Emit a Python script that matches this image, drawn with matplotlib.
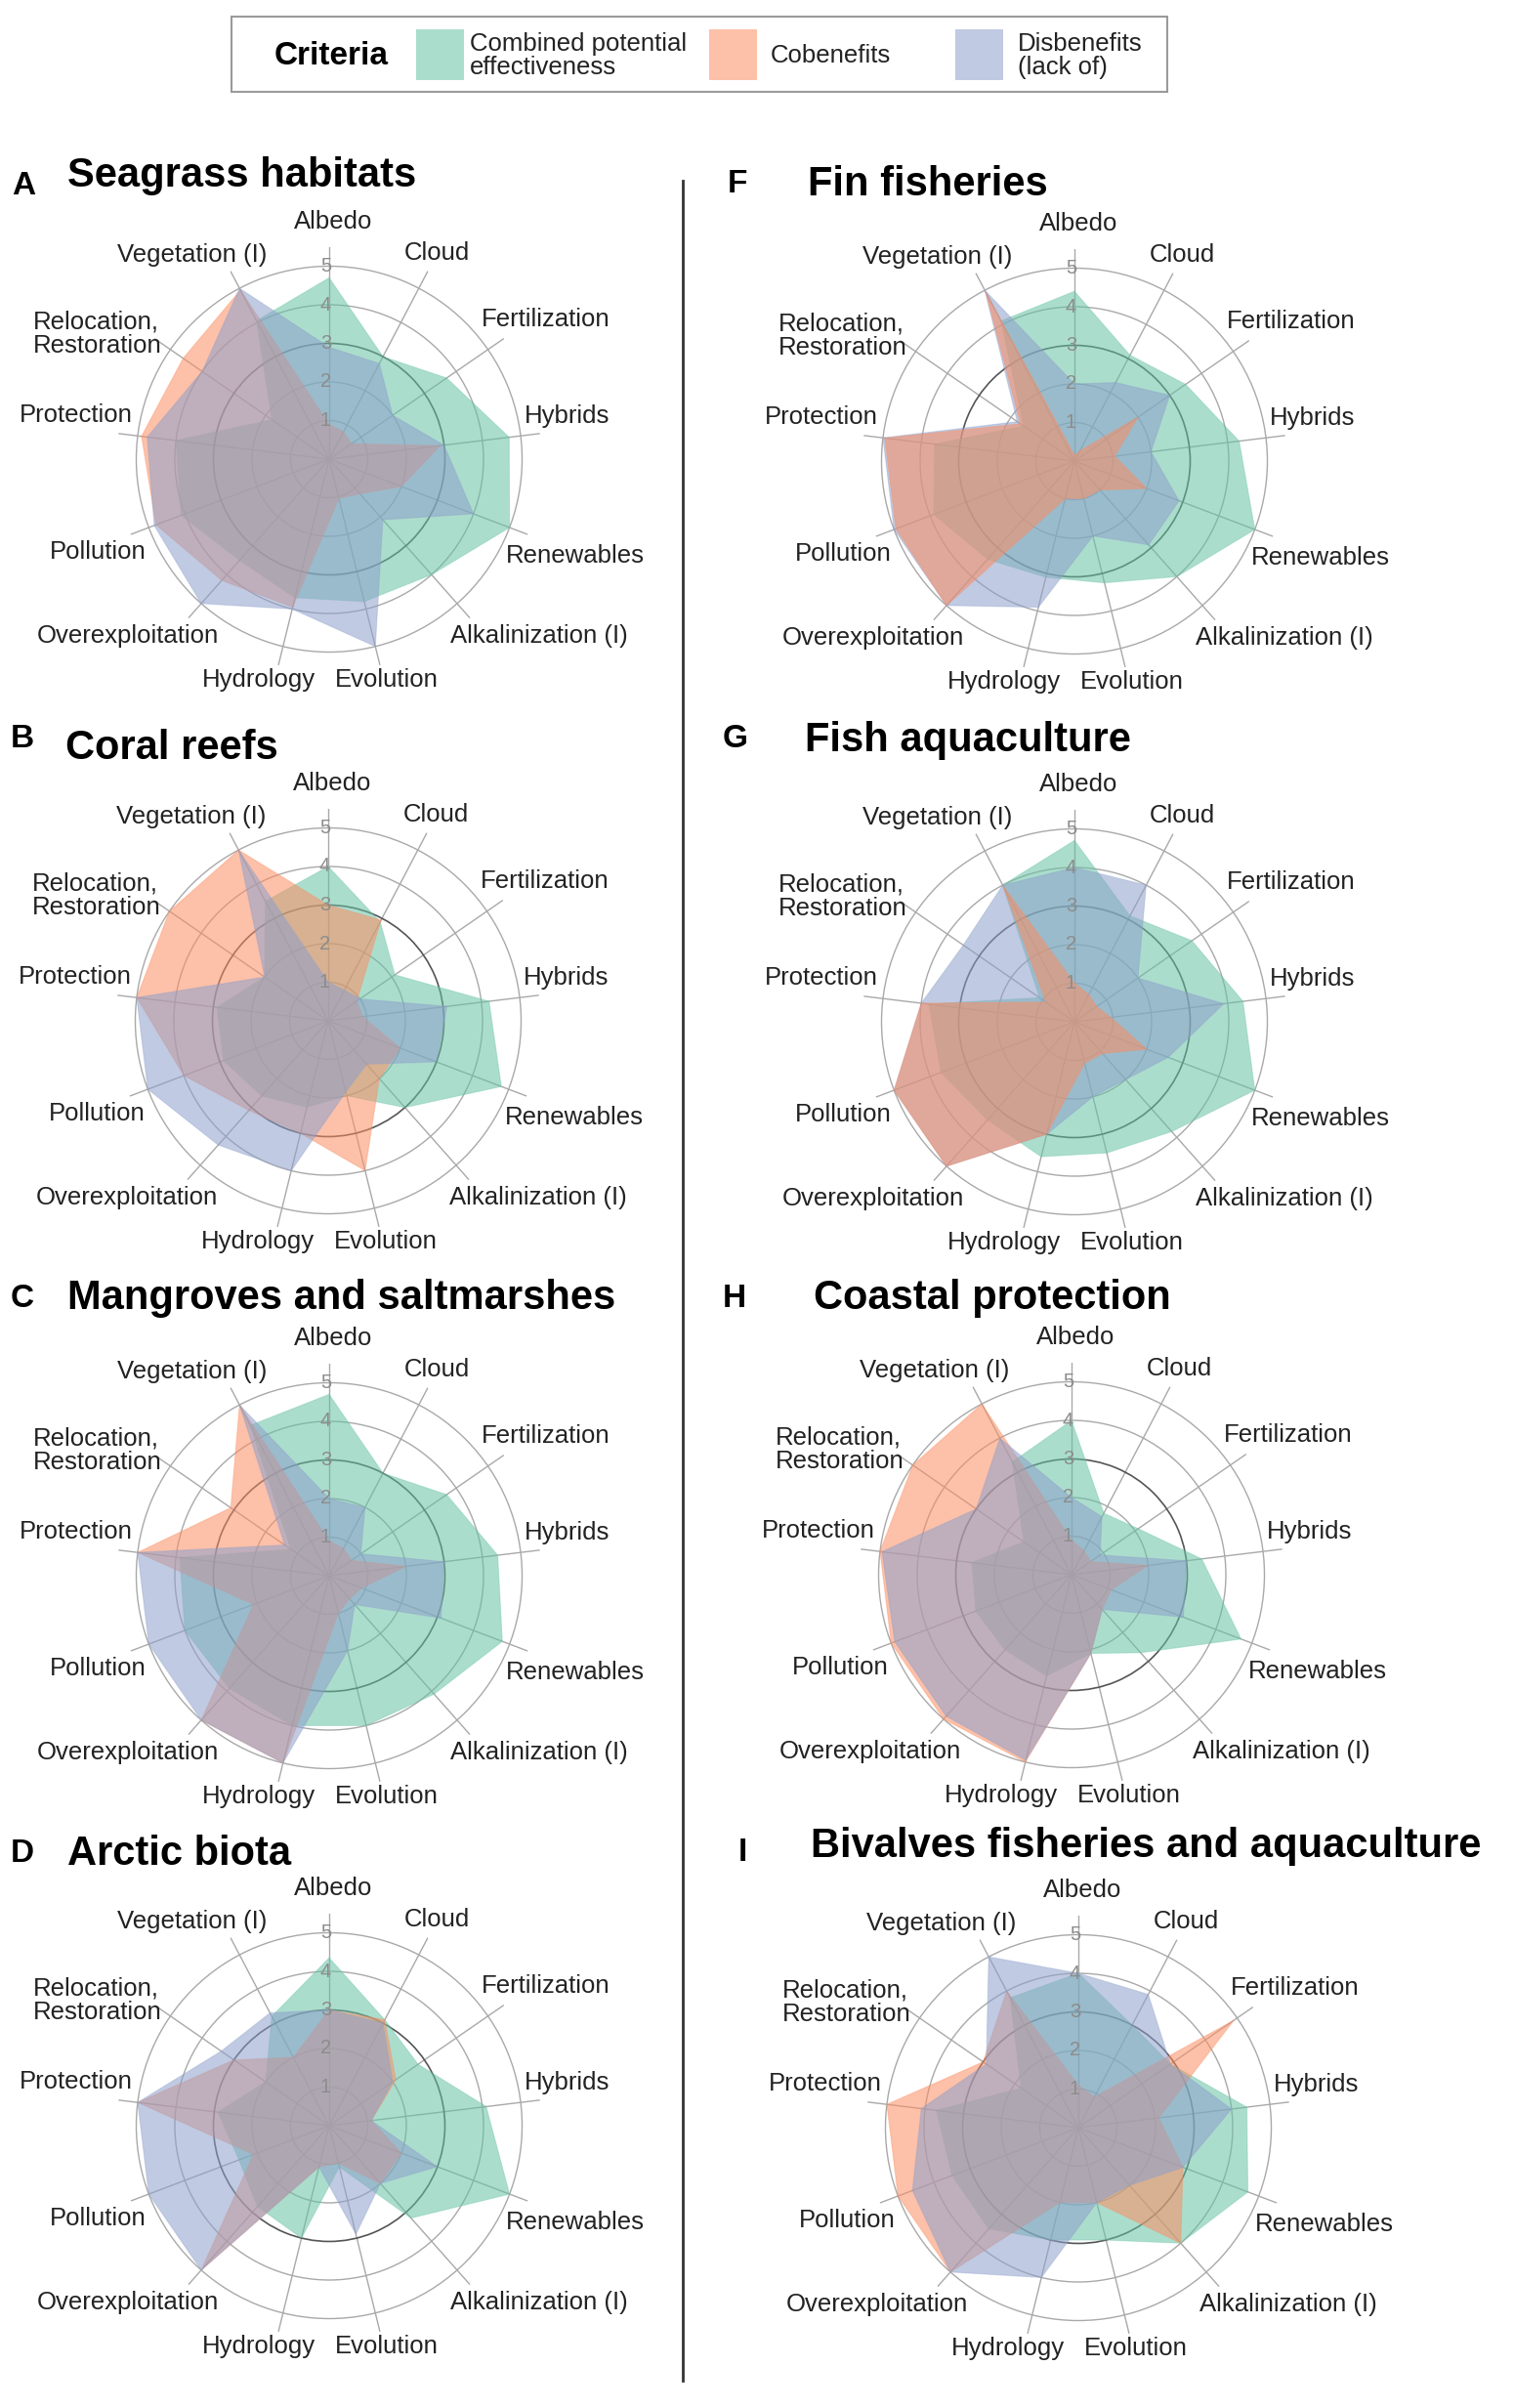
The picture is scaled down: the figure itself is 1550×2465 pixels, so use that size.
import numpy as np
import matplotlib.pyplot as plt
from matplotlib.patches import Rectangle
from matplotlib.lines import Line2D

plt.rcParams['font.family'] = ['Liberation Sans', 'DejaVu Sans']

# axes of every radar, clockwise from the top
categories = ['Albedo', 'Cloud', 'Fertilization', 'Hybrids', 'Renewables',
              'Alkalinization (I)', 'Evolution', 'Hydrology', 'Overexploitation',
              'Pollution', 'Protection', 'Relocation,\nRestoration', 'Vegetation (I)']

criteria = ['Combined potential\neffectiveness', 'Cobenefits', 'Disbenefits\n(lack of)']
colors = ['#66c2a5', '#fc8d62', '#8da0cb']

# A - Seagrass habitats
seagrass_eff = [4.7, 3.0, 3.7, 4.7, 5.0, 4.0, 3.8, 3.7, 3.5, 4.1, 4.0, 1.8, 4.05]
seagrass_cob = [0.9, 0.8, 0.7, 2.9, 2.0, 1.2, 1.05, 3.95, 4.2, 4.8, 4.9, 4.6, 4.95]
seagrass_dis = [2.9, 2.8, 2.0, 3.0, 4.0, 2.1, 5.0, 4.0, 5.0, 4.85, 4.75, 4.0, 5.0]

# B - Coral reefs
coral_eff = [4.0, 2.9, 2.1, 4.2, 4.8, 3.0, 2.0, 2.3, 2.6, 2.9, 2.9, 2.0, 3.5]
coral_cob = [3.0, 2.95, 0.9, 0.9, 2.0, 2.0, 4.0, 3.0, 3.1, 4.0, 5.0, 5.0, 5.0]
coral_dis = [1.0, 0.9, 1.0, 3.1, 3.0, 1.5, 1.9, 4.0, 4.3, 5.0, 5.0, 2.0, 5.0]

# C - Mangroves and saltmarshes
mangrove_eff = [4.7, 3.0, 3.7, 4.4, 4.8, 4.1, 4.0, 4.0, 3.9, 4.0, 3.9, 1.2, 4.4]
mangrove_cob = [0.9, 0.8, 0.7, 2.0, 0.9, 0.8, 1.0, 5.0, 5.0, 2.1, 5.0, 3.1, 5.0]
mangrove_dis = [2.0, 2.0, 1.0, 3.0, 3.1, 1.0, 2.0, 5.0, 5.0, 5.0, 5.0, 1.4, 5.0]

# D - Arctic biota
arctic_eff = [4.35, 3.1, 2.8, 4.1, 5.0, 3.2, 1.1, 3.0, 2.8, 2.5, 2.9, 2.0, 3.2]
arctic_cob = [3.0, 3.1, 2.1, 1.1, 2.0, 2.0, 1.0, 1.1, 5.0, 2.1, 5.0, 3.0, 2.0]
arctic_dis = [3.0, 3.0, 2.0, 1.1, 3.0, 2.0, 2.9, 1.1, 5.0, 5.0, 5.0, 3.4, 3.3]

# F - Fin fisheries
finfish_eff = [4.4, 3.1, 3.5, 4.3, 5.0, 4.0, 3.25, 3.1, 3.4, 3.9, 3.65, 1.6, 4.1]
finfish_cob = [0.15, 0.3, 2.0, 1.05, 2.0, 1.0, 1.0, 1.0, 5.0, 4.95, 4.95, 1.7, 4.95]
finfish_dis = [2.0, 2.3, 3.0, 2.0, 2.9, 2.9, 2.0, 3.9, 5.0, 5.0, 5.0, 1.8, 5.0]

# G - Fish aquaculture
aquaculture_eff = [4.7, 3.1, 3.7, 4.4, 5.0, 3.8, 3.5, 3.6, 3.4, 3.7, 3.8, 1.1, 4.0]
aquaculture_cob = [1.0, 0.8, 0.7, 0.95, 2.0, 1.1, 1.1, 3.0, 5.0, 5.0, 4.0, 0.9, 4.0]
aquaculture_dis = [4.0, 4.0, 2.0, 3.9, 2.6, 2.0, 2.0, 3.0, 5.0, 5.0, 4.0, 3.5, 4.0]

# H - Coastal protection
coastal_eff = [4.0, 1.8, 2.1, 3.4, 4.7, 2.7, 2.1, 2.7, 2.6, 2.65, 2.6, 1.5, 3.3]
coastal_cob = [0.9, 0.7, 0.6, 2.0, 1.1, 1.2, 2.1, 5.0, 5.0, 5.0, 5.0, 5.0, 5.0]
coastal_dis = [2.0, 1.7, 0.9, 3.0, 3.1, 1.2, 2.1, 4.95, 4.9, 4.9, 4.95, 3.0, 4.0]

# I - Bivalves fisheries and aquaculture
bivalve_eff = [4.0, 3.0, 2.9, 4.4, 4.7, 4.0, 3.0, 3.0, 3.5, 3.5, 3.7, 1.8, 3.8]
bivalve_cob = [1.1, 0.9, 4.9, 2.1, 2.9, 4.0, 2.0, 2.0, 5.0, 5.0, 5.0, 3.0, 4.0]
bivalve_dis = [4.0, 3.9, 2.9, 4.0, 2.9, 2.0, 2.0, 4.0, 5.0, 4.6, 4.1, 2.9, 5.0]

panel_letters = ['A', 'B', 'C', 'D', 'F', 'G', 'H', 'I']
panel_titles = ['Seagrass habitats', 'Coral reefs', 'Mangroves and saltmarshes',
                'Arctic biota', 'Fin fisheries', 'Fish aquaculture',
                'Coastal protection', 'Bivalves fisheries and aquaculture']
panel_data = [
    (seagrass_eff, seagrass_cob, seagrass_dis),
    (coral_eff, coral_cob, coral_dis),
    (mangrove_eff, mangrove_cob, mangrove_dis),
    (arctic_eff, arctic_cob, arctic_dis),
    (finfish_eff, finfish_cob, finfish_dis),
    (aquaculture_eff, aquaculture_cob, aquaculture_dis),
    (coastal_eff, coastal_cob, coastal_dis),
    (bivalve_eff, bivalve_cob, bivalve_dis),
]

# ---- layout (pixels of the 1550 x 2465 canvas) ----
W, H = 1550, 2465
UNIT = 39.5          # px per score unit
RMAX = 5.5

def fx(px):
    return px / W

def fy(py):
    return 1 - py / H

centers = [(337, 470), (336, 1045), (337, 1613), (337, 2176),
           (1100, 472), (1100, 1046), (1097, 1612), (1104, 2178)]
letter_xy = [(12, 199), (11, 765), (11, 1338), (11, 1906),
             (745, 197), (740, 765), (740, 1338), (756, 1905)]
title_xy = [(69, 191), (67, 777), (69, 1340), (69, 1909),
            (827, 200), (824, 769), (833, 1340), (830, 1901)]
# draw order of the three criteria (last one ends on top)
draw_order = [[0, 1, 2], [0, 1, 2], [0, 1, 2], [0, 1, 2],
              [0, 2, 1], [0, 2, 1], [0, 1, 2], [0, 1, 2]]
# label centres in score units (x right, y up) from the radar centre
label_pos = [(0.1, 6.15), (2.79, 5.35), (5.62, 3.62), (6.17, 1.12), (6.38, -2.5),
             (5.45, -4.57), (1.49, -5.72), (-1.82, -5.72), (-5.21, -4.57),
             (-6.0, -2.41), (-6.57, 1.15), (-6.0, 3.25), (-3.55, 5.28)]

n = len(categories)
angles = np.arange(n) * 2 * np.pi / n
theta_closed = np.append(angles, angles[0])

fig = plt.figure(figsize=(W / 100, H / 100), dpi=100)

for p, (cx, cy) in enumerate(centers):
    half = RMAX * UNIT
    ax = fig.add_axes([fx(cx - half), fy(cy + half), 2 * half / W, 2 * half / H],
                      projection='polar')
    ax.set_theta_zero_location('N')
    ax.set_theta_direction(-1)
    ax.set_ylim(0, RMAX)
    ax.set_xticks(angles)
    ax.set_xticklabels([])
    ax.set_yticks([1, 2, 3, 4, 5])
    ax.set_yticklabels([])
    ax.grid(color='#a9a9a9', lw=1.0)
    ax.tick_params(length=0)
    for k, gl in enumerate(ax.yaxis.get_gridlines()):
        if k == 2:
            gl.set_color('#555555')
            gl.set_linewidth(1.2)
    ax.spines['polar'].set_visible(False)
    ax.set_facecolor('none')

    series = panel_data[p]
    for z, s in enumerate(draw_order[p]):
        vals = np.append(series[s], series[s][0])
        ax.fill(theta_closed, vals, color=colors[s], alpha=0.55, lw=0, zorder=3 + z)
        ax.plot(theta_closed, vals, color=colors[s], alpha=0.35, lw=0.8, zorder=3 + z)

    for k in range(1, 6):
        ax.annotate(str(k), xy=(0, k), xytext=(1.5, 0), textcoords='offset points',
                    ha='right', va='center', fontsize=14.5, color='#8c8c8c', zorder=10)

    for i, (u, v) in enumerate(label_pos):
        ax.text(np.arctan2(u, v), np.hypot(u, v), categories[i], ha='center',
                va='center', fontsize=18.5, color='#222222', linespacing=1.0,
                multialignment='left')

    lx, ly = letter_xy[p]
    fig.text(fx(lx), fy(ly), panel_letters[p], fontsize=24, fontweight='bold',
             va='baseline', ha='left')
    tx, ty = title_xy[p]
    fig.text(fx(tx), fy(ty), panel_titles[p], fontsize=30, fontweight='bold',
             va='baseline', ha='left')

# vertical divider between the two columns
fig.add_artist(Line2D([fx(699), fx(699)], [fy(185), fy(2437)],
                      transform=fig.transFigure, color='#333333', lw=2))

# legend box
fig.add_artist(Rectangle((fx(237), fy(94)), (1195 - 237) / W, (94 - 17) / H,
                         transform=fig.transFigure, fill=False, ec='#9a9a9a', lw=1.5))
fig.text(fx(339), fy(57), 'Criteria', ha='center', va='center', fontsize=24,
         fontweight='bold')
for c, px in zip(colors, [426, 726, 978]):
    fig.add_artist(Rectangle((fx(px), fy(82)), 49 / W, 52 / H, transform=fig.transFigure,
                             color=c, alpha=0.55, lw=0))
for name, tx in zip(criteria, [481, 789, 1042]):
    fig.text(fx(tx), fy(57), name, ha='left', va='center', fontsize=18.5,
             linespacing=0.95, color='#222222')

fig.savefig('out.png', dpi=100, facecolor='white')
